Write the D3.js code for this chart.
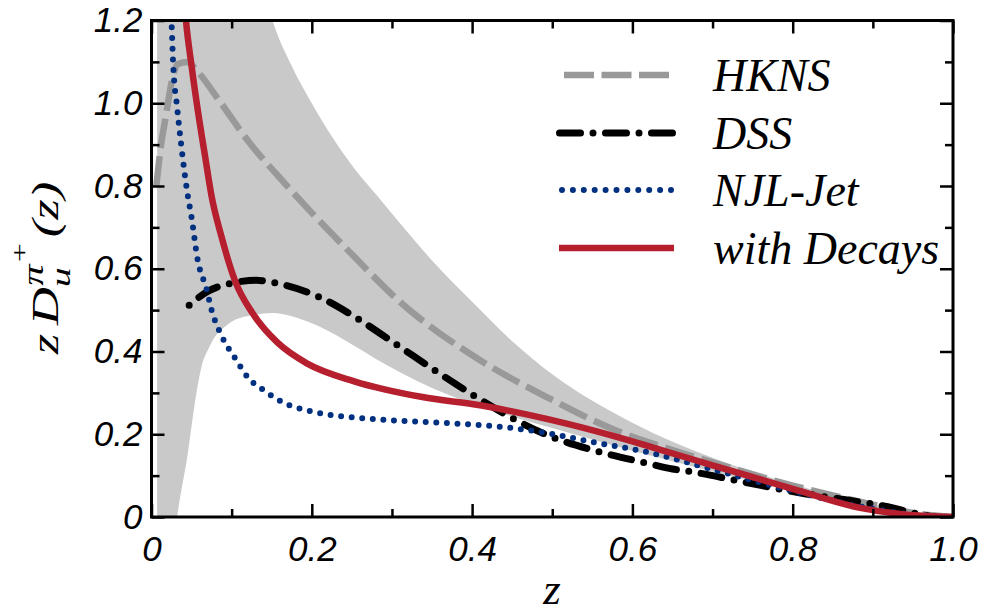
<!DOCTYPE html>
<html>
<head>
<meta charset="utf-8">
<script src="https://cdn.jsdelivr.net/npm/d3@7"></script>
<style>
  html, body { margin: 0; padding: 0; background: #fff; }
  svg { display: block; }
</style>
</head>
<body>
<svg id="chart" width="984" height="613"></svg>
<script>
// ---------------- DATA ----------------
const xTickValues = [0, 0.2, 0.4, 0.6, 0.8, 1.0];
const xTickLabels = ["0", "0.2", "0.4", "0.6", "0.8", "1.0"];
const yTickValues = [0, 0.2, 0.4, 0.6, 0.8, 1.0, 1.2];
const yTickLabels = ["0", "0.2", "0.4", "0.6", "0.8", "1.0", "1.2"];
const xMinorTicks = [0.1, 0.3, 0.5, 0.7, 0.9];
const yMinorTicks = [0.1, 0.3, 0.5, 0.7, 0.9, 1.1];

// uncertainty band (HKNS)
const bandZ     = [0.007, 0.02, 0.032, 0.045, 0.056, 0.062, 0.072, 0.097, 0.12, 0.151, 0.175, 0.2, 0.23, 0.256, 0.28, 0.31, 0.35, 0.4, 0.45, 0.5, 0.6, 0.7, 0.8, 0.9, 0.95, 1.0];
const bandUpper = [7.0, 5.0, 4.0, 3.3, 2.8, 2.6, 2.3, 1.72, 1.45, 1.2, 1.09, 1.0, 0.905, 0.835, 0.78, 0.71, 0.62, 0.52, 0.425, 0.345, 0.228, 0.143, 0.08, 0.03, 0.012, 0.0];
const bandLower = [-0.6, -0.2, 0.0, 0.15, 0.30, 0.36, 0.41, 0.468, 0.486, 0.493, 0.485, 0.468, 0.44, 0.41, 0.382, 0.35, 0.312, 0.274, 0.243, 0.215, 0.16, 0.11, 0.065, 0.022, 0.008, 0.0];

const hknsZ = [0.006, 0.012, 0.018, 0.025, 0.033, 0.045, 0.056, 0.085, 0.122, 0.16, 0.2, 0.25, 0.31, 0.41, 0.493, 0.576, 0.65, 0.7, 0.8, 0.9, 0.95, 1.0];
const hknsV = [0.80, 0.90, 0.97, 1.05, 1.095, 1.10, 1.08, 1.005, 0.905, 0.82, 0.735, 0.635, 0.52, 0.379, 0.29, 0.212, 0.162, 0.132, 0.076, 0.03, 0.01, 0.0];

const dssZ = [0.047, 0.07, 0.1, 0.131, 0.156, 0.21, 0.26, 0.307, 0.357, 0.405, 0.45, 0.5, 0.56, 0.618, 0.65, 0.675, 0.738, 0.81, 0.868, 0.925, 0.95, 0.97];
const dssV = [0.512, 0.545, 0.565, 0.572, 0.565, 0.531, 0.476, 0.415, 0.35, 0.29, 0.239, 0.193, 0.157, 0.13, 0.116, 0.109, 0.085, 0.058, 0.041, 0.022, 0.01, 0.002];

const njlZ = [0.023, 0.025, 0.027, 0.032, 0.037, 0.045, 0.05, 0.057, 0.069, 0.075, 0.087, 0.105, 0.12, 0.141, 0.164, 0.2, 0.256, 0.297, 0.368, 0.45, 0.493, 0.556, 0.618, 0.7, 0.8, 0.9, 0.95, 1.0];
const njlV = [1.26, 1.195, 1.096, 0.99, 0.90, 0.78, 0.724, 0.628, 0.548, 0.50, 0.44, 0.382, 0.338, 0.305, 0.277, 0.255, 0.24, 0.234, 0.227, 0.215, 0.203, 0.179, 0.157, 0.115, 0.063, 0.02, 0.006, 0.0];

const decZ = [0.040, 0.043, 0.05, 0.058, 0.067, 0.075, 0.087, 0.104, 0.127, 0.158, 0.195, 0.253, 0.338, 0.41, 0.493, 0.576, 0.634, 0.7, 0.8, 0.884, 0.94, 1.0];
const decV = [1.27, 1.20, 1.09, 0.98, 0.87, 0.775, 0.68, 0.572, 0.49, 0.42, 0.37, 0.328, 0.29, 0.27, 0.237, 0.196, 0.163, 0.125, 0.068, 0.022, 0.006, 0.0];

const legendLabels = ["HKNS", "DSS", "NJL-Jet", "with Decays"];

// ---------------- LAYOUT ----------------
const svg = d3.select("#chart");
const L = 151.5, R = 953, T = 20.5, B = 517;
const x = d3.scaleLinear().domain([0, 1]).range([L, R]);
const y = d3.scaleLinear().domain([0, 1.2]).range([B, T]);

const defs = svg.append("defs");
defs.append("clipPath").attr("id", "plotclip")
  .append("rect").attr("x", L).attr("y", T).attr("width", R - L).attr("height", B - T);

const plot = svg.append("g").attr("clip-path", "url(#plotclip)");

// band
const bandData = bandZ.map((z, i) => ({ z, lo: bandLower[i], hi: bandUpper[i] }));
plot.append("path")
  .datum(bandData)
  .attr("fill", "#c9c9c9")
  .attr("d", d3.area().curve(d3.curveMonotoneX)
    .x(d => x(d.z)).y0(d => y(d.lo)).y1(d => y(d.hi)));

const lineGen = d3.line().curve(d3.curveMonotoneX).x(d => x(d[0])).y(d => y(d[1]));
const zip = (a, b) => a.map((v, i) => [v, b[i]]);

const styles = [
  { stroke: "#999999", width: 6.5, dash: "30,8", cap: "butt", offset: 0 },
  { stroke: "#000000", width: 7, dash: "21,12.5,0,12.5", cap: "round", offset: 33.5 },
  { stroke: "#00307f", width: 6, dash: "0,10.6", cap: "round", offset: 0 },
  { stroke: "#b51f2e", width: 6.5, dash: null, cap: "butt", offset: 0 }
];
const series = [zip(hknsZ, hknsV), zip(dssZ, dssV), zip(njlZ, njlV), zip(decZ, decV)];

series.forEach((s, i) => {
  const st = styles[i];
  const p = plot.append("path").datum(s)
    .attr("fill", "none")
    .attr("stroke", st.stroke)
    .attr("stroke-width", st.width)
    .attr("stroke-linecap", st.cap)
    .attr("stroke-linejoin", "round")
    .attr("d", lineGen);
  if (st.dash) p.attr("stroke-dasharray", st.dash).attr("stroke-dashoffset", st.offset);
});

// ---------------- AXES ----------------
const tickFont = "'Liberation Sans', Arial, Helvetica, sans-serif";
function styleAxis(g) {
  g.select(".domain").remove();
  g.selectAll(".tick line").attr("stroke", "#000").attr("stroke-width", 2.5);
  g.selectAll(".tick text").attr("font-family", tickFont).attr("font-style", "italic")
    .attr("font-size", 35).attr("fill", "#000");
}
// bottom
svg.append("g").attr("transform", `translate(0,${B})`)
  .call(d3.axisBottom(x).tickValues(xTickValues).tickSize(-13).tickPadding(19)
    .tickFormat((d, i) => xTickLabels[i]))
  .call(styleAxis);
svg.append("g").attr("transform", `translate(0,${B})`)
  .call(d3.axisBottom(x).tickValues(xMinorTicks).tickSize(-8).tickFormat(""))
  .call(styleAxis);
// top
svg.append("g").attr("transform", `translate(0,${T})`)
  .call(d3.axisTop(x).tickValues(xTickValues).tickSize(-13).tickFormat(""))
  .call(styleAxis);
svg.append("g").attr("transform", `translate(0,${T})`)
  .call(d3.axisTop(x).tickValues(xMinorTicks).tickSize(-8).tickFormat(""))
  .call(styleAxis);
// left
svg.append("g").attr("transform", `translate(${L},0)`)
  .call(d3.axisLeft(y).tickValues(yTickValues).tickSize(-13).tickPadding(9)
    .tickFormat((d, i) => yTickLabels[i]))
  .call(styleAxis);
svg.append("g").attr("transform", `translate(${L},0)`)
  .call(d3.axisLeft(y).tickValues(yMinorTicks).tickSize(-8).tickFormat(""))
  .call(styleAxis);
// right
svg.append("g").attr("transform", `translate(${R},0)`)
  .call(d3.axisRight(y).tickValues(yTickValues).tickSize(-13).tickFormat(""))
  .call(styleAxis);
svg.append("g").attr("transform", `translate(${R},0)`)
  .call(d3.axisRight(y).tickValues(yMinorTicks).tickSize(-8).tickFormat(""))
  .call(styleAxis);

// frame
svg.append("rect").attr("x", L).attr("y", T).attr("width", R - L).attr("height", B - T)
  .attr("fill", "none").attr("stroke", "#000").attr("stroke-width", 3);

// ---------------- TITLES ----------------
const serif = "'Liberation Serif', 'Times New Roman', Times, serif";
svg.append("text")
  .attr("x", 552).attr("y", 604)
  .attr("text-anchor", "middle")
  .attr("font-family", serif).attr("font-style", "italic").attr("font-size", 45)
  .text("z");

// y title (rotated), built piece by piece, stretched slightly along the text
const ytOuter = svg.append("g").attr("transform", "translate(58,268) rotate(-90) scale(1.42,1)");
const yt = ytOuter.append("g")
  .attr("font-family", serif).attr("font-style", "italic").attr("fill", "#000");
let cx = 0;
function piece(txt, size, dy) {
  const t = yt.append("text").attr("x", cx).attr("y", dy).attr("font-size", size).text(txt);
  return t.node().getComputedTextLength();
}
cx += piece("z", 37, 0);
cx += 6;
cx += piece("D", 37, 0);
const subStart = cx;
const wu = piece("u", 28, 12);
cx = subStart + 1;
cx += piece("\u03c0", 30, -15);
cx += piece("+", 24, -31);
cx = Math.max(cx, subStart + wu) + 3;
cx += piece("(z)", 37, 0);
yt.attr("transform", `translate(${-cx / 2},0)`);

// ---------------- LEGEND ----------------
const legY = [75, 133, 190, 248];
const legend = svg.append("g");
styles.forEach((st, i) => {
  const x1 = i === 1 ? 559.5 : (i === 2 ? 562 : (i === 0 ? 564 : 559));
  const x2 = i === 1 ? 673.5 : (i === 2 ? 673 : (i === 0 ? 669 : 674));
  const ln = legend.append("line")
    .attr("x1", x1).attr("x2", x2).attr("y1", legY[i]).attr("y2", legY[i])
    .attr("stroke", st.stroke).attr("stroke-width", st.width)
    .attr("stroke-linecap", st.cap);
  if (i === 0) ln.attr("stroke-dasharray", "30,7.5");
  if (i === 1) ln.attr("stroke-dasharray", "21,12.5,0,12.5");
  if (i === 2) ln.attr("stroke-dasharray", "0,10.9");
  legend.append("text")
    .attr("x", 713).attr("y", legY[i] + 16)
    .attr("font-family", serif).attr("font-style", "italic").attr("font-size", 46)
    .attr("fill", "#000")
    .text(legendLabels[i]);
});
</script>
</body>
</html>
